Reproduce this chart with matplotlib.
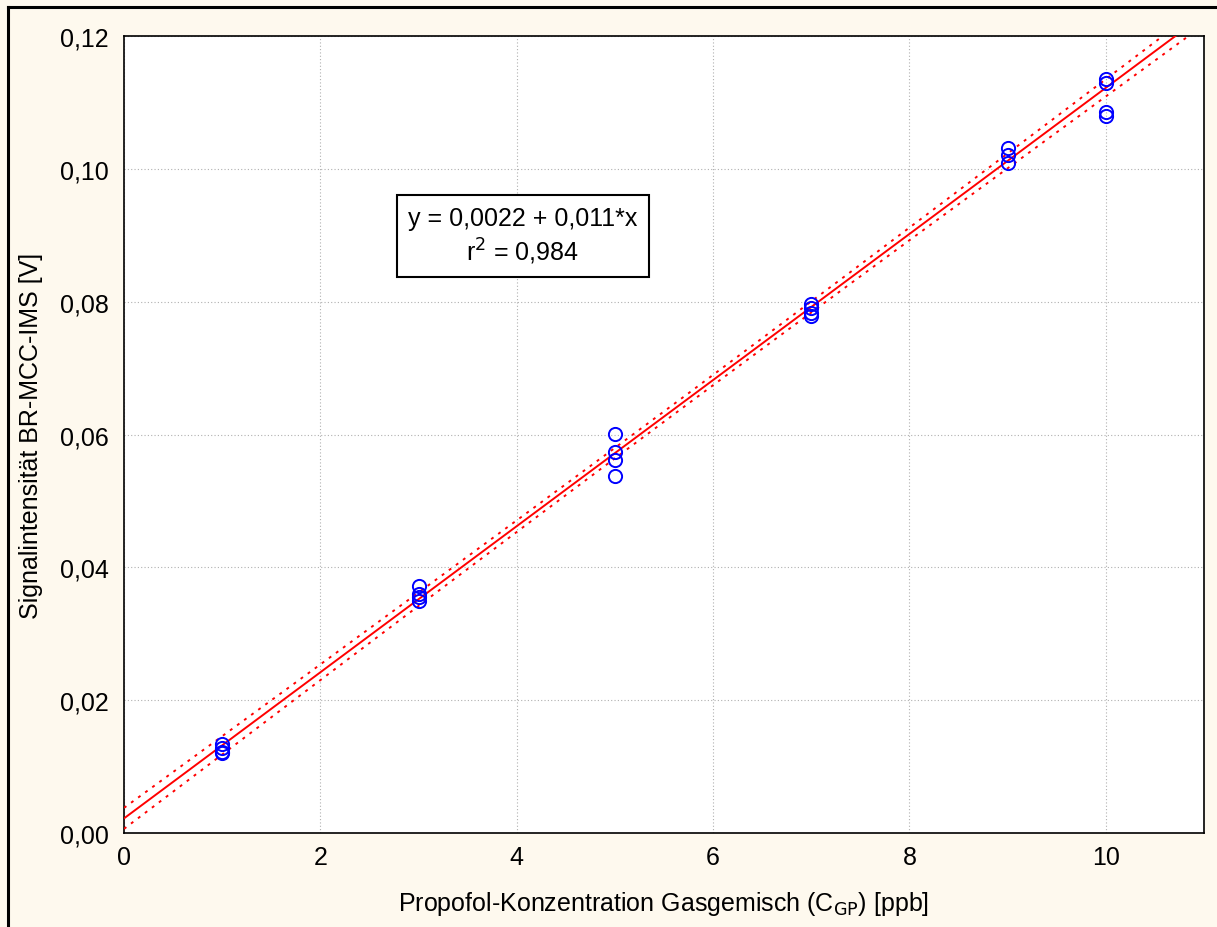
import numpy as np
import matplotlib.pyplot as plt
from matplotlib.lines import Line2D
from matplotlib.ticker import FuncFormatter

plt.rcParams['font.family'] = ['Liberation Sans', 'DejaVu Sans']

# Messpunkte (Konzentration in ppb, Signal in V)
conc = [1, 1, 1, 1,
        3, 3, 3, 3,
        5, 5, 5, 5,
        7, 7, 7, 7,
        9, 9, 9,
        10, 10, 10, 10]
signal = [0.0134, 0.0128, 0.0122, 0.0120,
          0.0372, 0.0360, 0.0355, 0.0350,
          0.0601, 0.0574, 0.0562, 0.0538,
          0.0797, 0.0790, 0.0783, 0.0778,
          0.1031, 0.1021, 0.1009,
          0.1135, 0.1129, 0.1086, 0.1080]

intercept = 0.0022
slope = 0.011
eq_text = "y = 0,0022 + 0,011*x"
r2_text = "r$^2$ = 0,984"

x = np.array(conc, dtype=float)
y = np.array(signal)

# Konfidenzband (95 %) der Regression
n = len(x)
b, a = np.polyfit(x, y, 1)
resid = y - (a + b * x)
s = np.sqrt(np.sum(resid ** 2) / (n - 2))
xs = np.linspace(0, 11, 200)
t = 2.08
se = s * np.sqrt(1 / n + (xs - x.mean()) ** 2 / np.sum((x - x.mean()) ** 2))
fit = intercept + slope * xs

fs = 18
fig = plt.figure(figsize=(12.17, 9.28), dpi=100, facecolor='#fef9ee')
ax = fig.add_axes([0.1019, 0.1013, 0.8874, 0.8588])
ax.set_facecolor('white')

ax.plot(xs, fit, color='red', lw=1.4, zorder=3)
ax.plot(xs, fit + t * se, color='red', lw=1.4, ls=(0, (1.5, 3)), zorder=3)
ax.plot(xs, fit - t * se, color='red', lw=1.4, ls=(0, (1.5, 3)), zorder=3)
ax.plot(x, y, 'o', mfc='none', mec='#0000ff', mew=1.4, ms=9.5, zorder=4)

ax.set_xlim(0, 11)
ax.set_ylim(0, 0.12)
ax.set_xticks([0, 2, 4, 6, 8, 10])
ax.set_yticks(np.arange(0, 0.121, 0.02))
ax.yaxis.set_major_formatter(FuncFormatter(lambda v, p: f"{v:.2f}".replace('.', ',')))
ax.grid(True, color='#b0b0b0', ls=(0, (1, 2)), lw=0.8)
ax.set_axisbelow(True)
ax.tick_params(labelsize=fs, length=0)
ax.tick_params(axis='y', pad=11)
ax.tick_params(axis='x', pad=9)
for sp in ax.spines.values():
    sp.set_linewidth(1.2)

ax.set_xlabel("Propofol-Konzentration Gasgemisch (C$_{\\mathrm{GP}}$) [ppb]", fontsize=fs, labelpad=14)
ax.set_ylabel("Signalintensität BR-MCC-IMS [V]", fontsize=fs, labelpad=12)

ax.text(4.06, 0.0899, eq_text + "\n" + r2_text,
        fontsize=fs, ha='center', va='center', linespacing=1.25,
        bbox=dict(boxstyle='square,pad=0.45', fc='white', ec='black', lw=1.5), zorder=5)

# Rahmen links und oben
fig.add_artist(Line2D([8 / 1217, 8 / 1217], [0, 1 - 8 / 928], color='black', lw=2.2, transform=fig.transFigure))
fig.add_artist(Line2D([8 / 1217, 1], [1 - 8 / 928, 1 - 8 / 928], color='black', lw=2.2, transform=fig.transFigure))

fig.savefig('out.png', dpi=100, facecolor=fig.get_facecolor())
